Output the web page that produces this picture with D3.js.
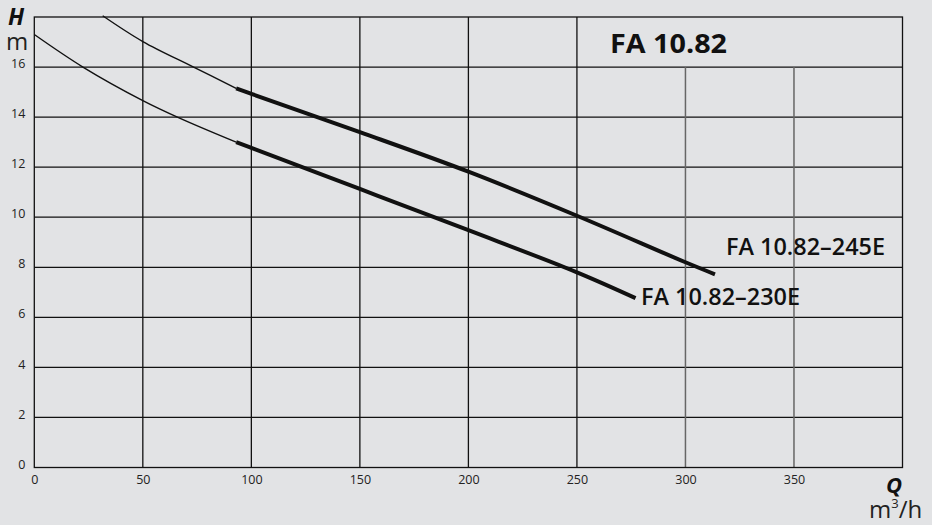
<!DOCTYPE html>
<html><head><meta charset="utf-8">
<script src="https://cdn.jsdelivr.net/npm/d3@7"></script>
<style>html,body{margin:0;padding:0;background:#e2e3e5;}svg{display:block;}</style>
</head><body>
<svg id="c" width="932" height="525"></svg>
<script>
// Data
const xTicks = [0, 50, 100, 150, 200, 250, 300, 350];
const yTicks = [0, 2, 4, 6, 8, 10, 12, 14, 16];
const grayXLines = [300, 350];
const seriesNames = ["FA 10.82–245E", "FA 10.82–230E"];
// 245E curve: thin (outside operating range) and thick (operating range)
const q245Thin = [31.5, 50, 73.4, 93];
const h245Thin = [18.05, 17.02, 16.0, 15.15];
const q245Thick = [93, 100, 150, 200, 250, 300, 313.6];
const h245Thick = [15.15, 14.93, 13.4, 11.82, 10.06, 8.2, 7.72];
// 230E curve
const q230Thin = [0, 22.4, 50, 67.2, 93];
const h230Thin = [17.3, 16.0, 14.66, 13.95, 13.0];
const q230Thick = [93, 100, 150, 200, 250, 277];
const h230Thick = [13.0, 12.77, 11.13, 9.48, 7.8, 6.77];
const title = "FA 10.82";

const svg = d3.select("#c");
const bg = "#e2e3e5", ink = "#111";
svg.append("rect").attr("width", 932).attr("height", 525).attr("fill", bg);

const x = d3.scaleLinear().domain([0, 400]).range([34.3, 902.5]);
const y = d3.scaleLinear().domain([0, 18]).range([467.5, 17]);

const g = svg.append("g");
// horizontal grid
g.selectAll(".hg").data(yTicks.filter(d => d > 0)).join("line")
  .attr("x1", x(0)).attr("x2", x(400)).attr("y1", d => y(d)).attr("y2", d => y(d))
  .attr("stroke", ink).attr("stroke-width", 1.3);
// vertical grid (black)
g.selectAll(".vg").data(xTicks.filter(d => d > 0 && !grayXLines.includes(d))).join("line")
  .attr("x1", d => x(d)).attr("x2", d => x(d)).attr("y1", y(18)).attr("y2", y(0))
  .attr("stroke", ink).attr("stroke-width", 1.3);
// vertical grid (gray)
g.selectAll(".vgg").data(grayXLines).join("line")
  .attr("x1", d => x(d)).attr("x2", d => x(d)).attr("y1", y(16)).attr("y2", y(0))
  .attr("stroke", "#666").attr("stroke-width", 1.5);
// frame
g.append("rect").attr("x", x(0)).attr("y", y(18)).attr("width", x(400) - x(0)).attr("height", y(0) - y(18))
  .attr("fill", "none").attr("stroke", ink).attr("stroke-width", 1.3);

// axes
const xAxis = d3.axisBottom(x).tickValues(xTicks).tickSize(0).tickPadding(8);
const xa = svg.append("g").attr("transform", `translate(0,${y(0)})`).call(xAxis);
xa.select(".domain").remove();
xa.selectAll("text").attr("font-family", "'Open Sans', sans-serif").attr("font-size", 12.5).attr("fill", "#222");

const yAxis = d3.axisLeft(y).tickValues(yTicks).tickSize(0).tickPadding(9);
const ya = svg.append("g").attr("transform", `translate(${x(0)},0)`).call(yAxis);
ya.select(".domain").remove();
ya.selectAll("text").attr("font-family", "'Open Sans', sans-serif").attr("font-size", 12.5).attr("fill", "#222").attr("dy", "0.05em");

// curves
const line = d3.line().x(d => x(d[0])).y(d => y(d[1])).curve(d3.curveCatmullRom.alpha(0.5));
const zip = (a, b) => a.map((v, i) => [v, b[i]]);
const curves = [
  { q: q245Thin, h: h245Thin, w: 1.4 },
  { q: q230Thin, h: h230Thin, w: 1.4 },
  { q: q245Thick, h: h245Thick, w: 4 },
  { q: q230Thick, h: h230Thick, w: 4 }
];
svg.append("g").selectAll("path").data(curves).join("path")
  .attr("d", d => line(zip(d.q, d.h)))
  .attr("fill", "none").attr("stroke", ink).attr("stroke-width", d => d.w)
  .attr("stroke-linecap", "butt");

// Series labels
const labels = [
  { t: seriesNames[0], x: 726, y: 255 },
  { t: seriesNames[1], x: 641, y: 305 }
];
svg.append("g").selectAll("text").data(labels).join("text")
  .attr("x", d => d.x).attr("y", d => d.y).text(d => d.t)
  .attr("font-family", "'Open Sans', sans-serif").attr("font-weight", 600).attr("font-size", 22.5)
  .attr("textLength", 159).attr("lengthAdjust", "spacingAndGlyphs").attr("fill", ink);

// Title
svg.append("text").attr("x", 610).attr("y", 53).text(title)
  .attr("font-family", "'Open Sans', sans-serif").attr("font-weight", 700).attr("font-size", 27.5)
  .attr("textLength", 117).attr("lengthAdjust", "spacingAndGlyphs").attr("fill", ink);

// Axis titles
svg.append("text").attr("x", 8).attr("y", 25).text("H")
  .attr("font-family", "'Open Sans', sans-serif").attr("font-weight", 700).attr("font-style", "italic")
  .attr("font-size", 23).attr("fill", ink);
svg.append("text").attr("x", 6).attr("y", 50).text("m")
  .attr("font-family", "'Open Sans', sans-serif").attr("font-size", 24).attr("fill", "#222");
svg.append("text").attr("x", 886).attr("y", 493).text("Q")
  .attr("font-family", "'Open Sans', sans-serif").attr("font-weight", 700).attr("font-style", "italic")
  .attr("font-size", 22).attr("fill", ink);
const qu = svg.append("text").attr("x", 869).attr("y", 518)
  .attr("font-family", "'Open Sans', sans-serif").attr("font-size", 24).attr("fill", "#222");
qu.append("tspan").text("m");
qu.append("tspan").text("3").attr("font-size", 13).attr("dy", -10);
qu.append("tspan").text("/h").attr("dy", 10);
</script>
</body></html>
